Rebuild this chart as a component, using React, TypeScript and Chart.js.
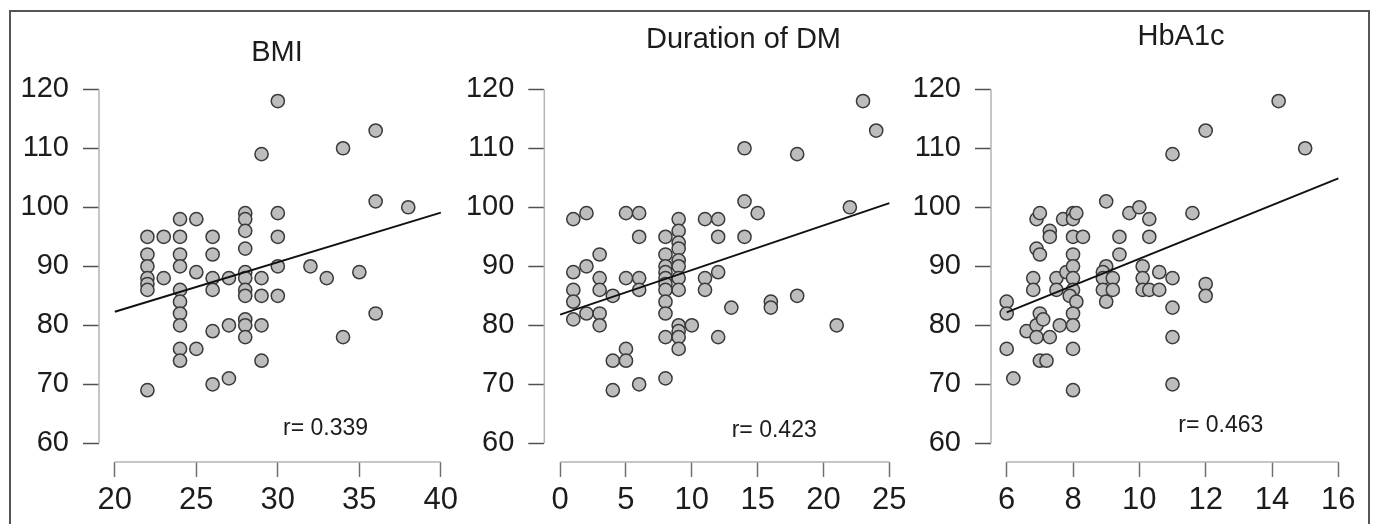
import React, { useEffect, useRef } from "react";
import { Chart, registerables } from "chart.js";

Chart.register(...registerables);

const FONT = '"Liberation Sans", Arial, Helvetica, sans-serif';

// ---- text ----
const titles = ["BMI", "Duration of DM", "HbA1c"];
const rLabels = ["r= 0.339", "r= 0.423", "r= 0.463"];

// ---- tick labels ----
const yTickValues = [60, 70, 80, 90, 100, 110, 120];
const bmiTicks = [20, 25, 30, 35, 40];
const durTicks = [0, 5, 10, 15, 20, 25];
const hbTicks = [6, 8, 10, 12, 14, 16];

// ---- BMI panel ----
const bmiX = [
  22, 22, 22, 22, 22, 22, 22,
  23, 23,
  24, 24, 24, 24, 24, 24, 24, 24, 24, 24,
  25, 25, 25,
  26, 26, 26, 26, 26, 26,
  27, 27, 27,
  28, 28, 28, 28, 28, 28, 28, 28, 28, 28, 28,
  29, 29, 29, 29, 29,
  30, 30, 30, 30, 30,
  32, 33, 34, 34, 35, 36, 36, 36, 38,
];
const bmiY = [
  95, 92, 90, 88, 87, 86, 69,
  95, 88,
  98, 95, 92, 90, 86, 84, 82, 80, 76, 74,
  98, 89, 76,
  95, 92, 88, 86, 79, 70,
  88, 80, 71,
  99, 98, 96, 93, 89, 88, 86, 85, 81, 80, 78,
  109, 88, 85, 80, 74,
  118, 99, 95, 90, 85,
  90, 88, 110, 78, 89, 113, 101, 82, 100,
];
const bmiFitX = [20, 40];
const bmiFitY = [82.3, 99.1];

// ---- Duration of DM panel ----
const durX = [
  1, 1, 1, 1, 1,
  2, 2, 2,
  3, 3, 3, 3, 3,
  4, 4, 4,
  5, 5, 5, 5,
  6, 6, 6, 6, 6,
  8, 8, 8, 8, 8, 8, 8, 8, 8, 8, 8,
  9, 9, 9, 9, 9, 9, 9, 9, 9, 9, 9, 9,
  10,
  11, 11, 11,
  12, 12, 12, 12,
  13,
  14, 14, 14,
  15,
  16, 16,
  18, 18,
  21, 22, 23, 24,
];
const durY = [
  98, 89, 86, 84, 81,
  99, 90, 82,
  92, 88, 86, 82, 80,
  85, 74, 69,
  99, 88, 76, 74,
  99, 95, 88, 86, 70,
  95, 92, 90, 89, 88, 87, 86, 84, 82, 78, 71,
  98, 96, 94, 93, 91, 90, 88, 86, 80, 79, 78, 76,
  80,
  98, 88, 86,
  98, 95, 89, 78,
  83,
  110, 101, 95,
  99,
  84, 83,
  109, 85,
  80, 100, 118, 113,
];
const durFitX = [0, 25];
const durFitY = [81.8, 100.7];

// ---- HbA1c panel ----
const hbX = [
  6, 6, 6, 6.2, 6.6, 6.8, 6.8, 6.9, 7, 6.9, 7, 7, 6.9, 7.1, 6.9, 7, 7.2,
  7.3, 7.3, 7.3, 7.5, 7.5, 7.6, 7.7, 7.8,
  8, 8, 8.1, 8, 8.3, 8, 8, 8, 8, 7.9, 8.1, 8, 8, 8, 8,
  9, 9, 8.9, 8.9, 9.2, 8.9, 9.2, 9, 9.4, 9.4, 9.7,
  10, 10.3, 10.3, 10.1, 10.1, 10.1, 10.3, 10.6, 10.6,
  11, 11, 11, 11, 11, 11.6, 12, 12, 12, 14.2, 15,
];
const hbY = [
  84, 82, 76, 71, 79, 88, 86, 98, 99, 93, 92, 82, 80, 81, 78, 74, 74,
  96, 95, 78, 88, 86, 80, 98, 89,
  99, 98, 99, 95, 95, 92, 90, 88, 86, 85, 84, 82, 80, 76, 69,
  101, 90, 89, 88, 88, 86, 86, 84, 95, 92, 99,
  100, 98, 95, 90, 88, 86, 86, 89, 86,
  109, 88, 83, 78, 70, 99, 113, 87, 85, 118, 110,
];
const hbFitX = [6, 16];
const hbFitY = [82.2, 104.9];

// ---- panel layout (canvas placement and scale extents) ----
const Y_MIN = 56.83;
const Y_MAX = 122.4;
const CANVAS_TOP = 12;
const CANVAS_H = 510;

const panels = [
  {
    left: 12, width: 450, xMin: 19.03, xMax: 40.8, yAxisW: 87, padRight: 2.8,
    ticks: bmiTicks, xs: bmiX, ys: bmiY, fx: bmiFitX, fy: bmiFitY,
    title: titles[0], r: rLabels[0], titleX: 265, titleY: 49, rX: 271, rY: 423,
  },
  {
    left: 462, width: 446, xMin: -1.203, xMax: 25.8, yAxisW: 82.3, padRight: 4.7,
    ticks: durTicks, xs: durX, ys: durY, fx: durFitX, fy: durFitY,
    title: titles[1], r: rLabels[1], titleX: 281.5, titleY: 36.3, rX: 269.7, rY: 424.7,
  },
  {
    left: 908, width: 458, xMin: 5.527, xMax: 16.4, yAxisW: 83, padRight: 14.4,
    ticks: hbTicks, xs: hbX, ys: hbY, fx: hbFitX, fy: hbFitY,
    title: titles[2], r: rLabels[2], titleX: 273, titleY: 33, rX: 270.3, rY: 419.7,
  },
];

const rStylePlugin = {
  id: "rStyle",
  afterDraw(chart: any, _args: any, opts: any) {
    const ctx = chart.ctx;
    const xs = chart.scales.x;
    const ys = chart.scales.y;
    const ca = chart.chartArea;
    ctx.save();
    // partial axis lines spanning the tick range
    ctx.strokeStyle = "#b4b4b4";
    ctx.lineWidth = 1.5;
    ctx.beginPath();
    ctx.moveTo(xs.getPixelForValue(xs.ticks[0].value), ca.bottom);
    ctx.lineTo(xs.getPixelForValue(xs.ticks[xs.ticks.length - 1].value), ca.bottom);
    ctx.moveTo(ca.left, ys.getPixelForValue(ys.ticks[0].value));
    ctx.lineTo(ca.left, ys.getPixelForValue(ys.ticks[ys.ticks.length - 1].value));
    ctx.stroke();
    // title
    ctx.fillStyle = "#1c1c1c";
    ctx.font = `29px ${FONT}`;
    ctx.textAlign = "center";
    ctx.textBaseline = "alphabetic";
    ctx.fillText(opts.title, opts.titleX, opts.titleY);
    // correlation label
    ctx.font = `23px ${FONT}`;
    ctx.textAlign = "left";
    ctx.fillText(opts.r, opts.rX, opts.rY);
    ctx.restore();
  },
};

function Panel({ p }: { p: any }) {
  const ref = useRef<HTMLCanvasElement | null>(null);
  useEffect(() => {
    if (!ref.current) return;
    const chart = new Chart(ref.current, {
      type: "scatter",
      data: {
        datasets: [
          {
            type: "line",
            data: p.fx.map((v: number, i: number) => ({ x: v, y: p.fy[i] })),
            borderColor: "#111111",
            borderWidth: 2,
            pointRadius: 0,
            fill: false,
            order: 0,
          } as any,
          {
            type: "scatter",
            data: p.xs.map((v: number, i: number) => ({ x: v, y: p.ys[i] })),
            backgroundColor: "#bdbdbd",
            borderColor: "#3a3a3a",
            borderWidth: 1.5,
            pointRadius: 6.6,
            order: 1,
          },
        ],
      },
      options: {
        animation: false,
        responsive: false,
        devicePixelRatio: 1,
        events: [],
        layout: { padding: { top: 63.1, left: 0, right: p.padRight, bottom: 0 } },
        plugins: {
          legend: { display: false },
          tooltip: { enabled: false },
          title: { display: false },
          rStyle: { title: p.title, titleX: p.titleX, titleY: p.titleY, r: p.r, rX: p.rX, rY: p.rY },
        } as any,
        scales: {
          x: {
            type: "linear",
            position: "bottom",
            min: p.xMin,
            max: p.xMax,
            afterBuildTicks: (s: any) => {
              s.ticks = p.ticks.map((v: number) => ({ value: v }));
            },
            afterFit: (s: any) => {
              s.height = 60;
              s.paddingLeft = 0;
              s.paddingRight = 0;
            },
            grid: {
              display: true,
              drawOnChartArea: false,
              drawTicks: true,
              tickLength: 15,
              tickColor: "#707070",
              tickWidth: 1.5,
            },
            border: { display: false },
            ticks: {
              font: { family: FONT, size: 31 },
              color: "#1c1c1c",
              padding: 5,
              maxRotation: 0,
              autoSkip: false,
              callback: (v: any) => String(v),
            },
          },
          y: {
            type: "linear",
            position: "left",
            min: Y_MIN,
            max: Y_MAX,
            afterBuildTicks: (s: any) => {
              s.ticks = yTickValues.map((v) => ({ value: v }));
            },
            afterFit: (s: any) => {
              s.width = p.yAxisW;
              s.paddingTop = 0;
              s.paddingBottom = 0;
            },
            grid: {
              display: true,
              drawOnChartArea: false,
              drawTicks: true,
              tickLength: 16,
              tickColor: "#505050",
              tickWidth: 1.5,
            },
            border: { display: false },
            ticks: {
              font: { family: FONT, size: 29 },
              color: "#1c1c1c",
              padding: 14,
              autoSkip: false,
              callback: (v: any) => String(v),
            },
          },
        },
      },
      plugins: [rStylePlugin],
    } as any);
    return () => chart.destroy();
  }, [p]);
  return (
    <canvas
      ref={ref}
      width={p.width}
      height={CANVAS_H}
      style={{ position: "absolute", left: p.left, top: CANVAS_TOP, width: p.width, height: CANVAS_H }}
    />
  );
}

export default function App() {
  return (
    <div
      style={{
        position: "absolute",
        left: 0,
        top: 0,
        width: 1373,
        height: 524,
        overflow: "hidden",
        background: "#ffffff",
      }}
    >
      <div
        style={{
          position: "absolute",
          left: 9,
          top: 10,
          width: 1361,
          height: 540,
          boxSizing: "border-box",
          border: "2px solid #555555",
        }}
      />
      {panels.map((p, i) => (
        <Panel key={i} p={p} />
      ))}
    </div>
  );
}
